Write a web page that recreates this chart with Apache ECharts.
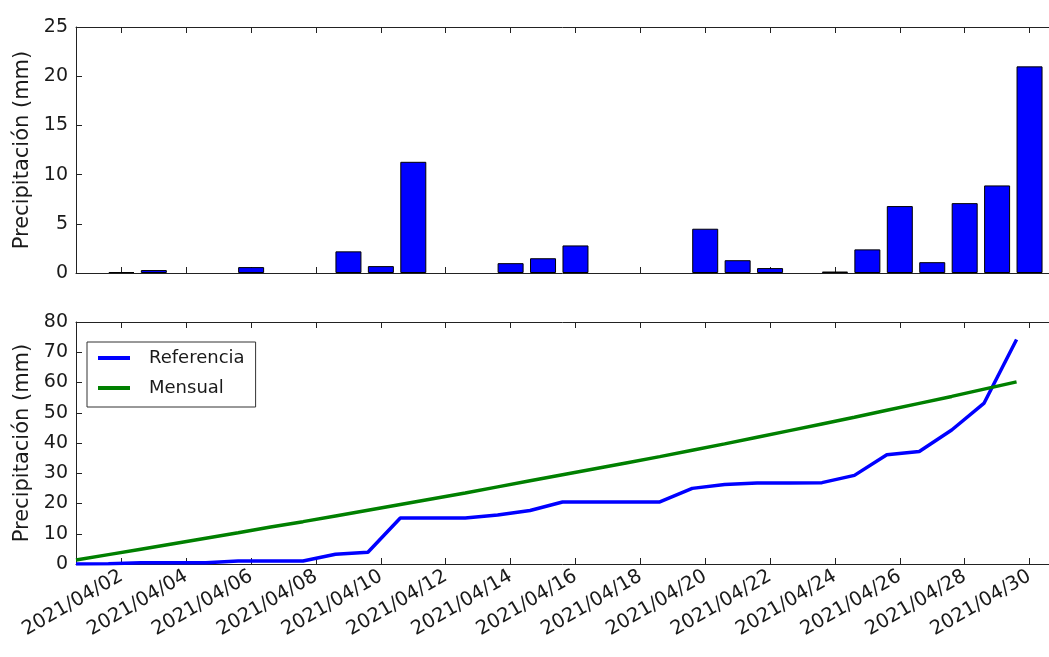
<!DOCTYPE html>
<html>
<head>
<meta charset="utf-8">
<script src="https://cdn.jsdelivr.net/npm/echarts@6/dist/echarts.min.js"></script>
<style>
html,body{margin:0;padding:0;background:#fff;}
#chart{width:1049px;height:657px;}
</style>
</head>
<body>
<div id="chart"></div>
<script>
// ---- data ----
const days = [1,2,3,4,5,6,7,8,9,10,11,12,13,14,15,16,17,18,19,20,21,22,23,24,25,26,27,28,29,30];
const tickDays = [2,4,6,8,10,12,14,16,18,20,22,24,26,28,30];
const dailyPrecip = [0,0.1,0.3,0,0,0.6,0,0,2.2,0.7,11.3,0,0,1.0,1.5,2.8,0,0,0,4.5,1.3,0.5,0,0.15,2.4,6.8,1.1,7.1,8.9,21.0];
const cumReferencia = [0,0.1,0.4,0.4,0.4,1.0,1.0,1.0,3.2,3.9,15.2,15.2,15.2,16.2,17.7,20.5,20.5,20.5,20.5,25.0,26.3,26.8,26.8,26.9,29.3,36.1,37.2,44.3,53.2,74.2];
const cumMensual = [1.3,3.1,4.9,6.7,8.5,10.3,12.2,14.0,15.9,17.8,19.7,21.6,23.5,25.5,27.5,29.5,31.5,33.5,35.5,37.6,39.7,41.9,44.1,46.3,48.5,50.8,53.1,55.4,57.8,60.2];
const topTicks = [0,5,10,15,20,25];
const bottomTicks = [0,10,20,30,40,50,60,70,80];
const yName = 'Precipitación (mm)';
const seriesNames = ['Referencia','Mensual'];
// cumulative samples sit 0.4 day before each daily bar centre in the source
const cumTimes = days.map(d => d - 0.4);

const FONT = 'DejaVu Sans';
const TXT = '#1a1a1a';
const AX = '#222';
const pad = v => (v < 10 ? '0' : '') + v;

function xAx(grid, pos, labels) {
  return {
    gridIndex: grid, type: 'value', position: pos, min: 0.6, max: 30.6,
    axisLine: {show: true, onZero: false, lineStyle: {color: AX, width: 1}},
    axisTick: {show: true, inside: true, length: 6, customValues: tickDays, lineStyle: {color: AX}},
    axisLabel: labels ? {
      show: true, customValues: tickDays, rotate: 30, margin: 11,
      fontFamily: FONT, fontSize: 19.5, color: TXT,
      formatter: v => '2021/04/' + pad(Math.round(v))
    } : {show: false},
    splitLine: {show: false}
  };
}
function yAx(grid, max, interval) {
  return {
    gridIndex: grid, type: 'value', min: 0, max: max, interval: interval,
    name: yName, nameLocation: 'middle', nameGap: 42, nameRotate: 90,
    nameTextStyle: {fontFamily: FONT, fontSize: 21, color: TXT},
    axisLine: {show: true, lineStyle: {color: AX, width: 1}},
    axisTick: {show: true, inside: true, length: 6, lineStyle: {color: AX}},
    axisLabel: {fontFamily: FONT, fontSize: 19, color: TXT, margin: 8},
    splitLine: {show: false}
  };
}

const chart = echarts.init(document.getElementById('chart'), null, {renderer: 'canvas'});
chart.setOption({
  backgroundColor: '#fff',
  animation: false,
  grid: [
    {left: 76, top: 27, width: 978, height: 246},
    {left: 76, top: 322, width: 978, height: 242}
  ],
  xAxis: [xAx(0, 'bottom', false), xAx(0, 'top', false), xAx(1, 'bottom', true), xAx(1, 'top', false)],
  yAxis: [yAx(0, topTicks[topTicks.length-1], 5), yAx(1, bottomTicks[bottomTicks.length-1], 10)],
  legend: {
    data: seriesNames,
    orient: 'vertical',
    left: 87, top: 342,
    icon: 'rect', itemWidth: 32, itemHeight: 4, itemGap: 10,
    padding: [6, 11, 9, 11],
    borderColor: '#333', borderWidth: 1, backgroundColor: '#fff', borderRadius: 0,
    textStyle: {fontFamily: FONT, fontSize: 18, color: TXT, lineHeight: 20, padding: [0, 0, 0, 14]}
  },
  series: [
    {
      type: 'bar', xAxisIndex: 0, yAxisIndex: 0, barWidth: 26,
      itemStyle: {color: '#0000ff', borderColor: '#000', borderWidth: 1},
      data: days.map((d, i) => [d, dailyPrecip[i]]).filter(p => p[1] > 0)
    },
    {
      name: seriesNames[0], type: 'line', xAxisIndex: 2, yAxisIndex: 1,
      showSymbol: false, symbol: 'none',
      lineStyle: {color: '#0000ff', width: 3.5}, itemStyle: {color: '#0000ff'},
      data: cumTimes.map((t, i) => [t, cumReferencia[i]])
    },
    {
      name: seriesNames[1], type: 'line', xAxisIndex: 2, yAxisIndex: 1,
      showSymbol: false, symbol: 'none',
      lineStyle: {color: '#008000', width: 3.5}, itemStyle: {color: '#008000'},
      data: cumTimes.map((t, i) => [t, cumMensual[i]])
    }
  ]
});
</script>
</body>
</html>
